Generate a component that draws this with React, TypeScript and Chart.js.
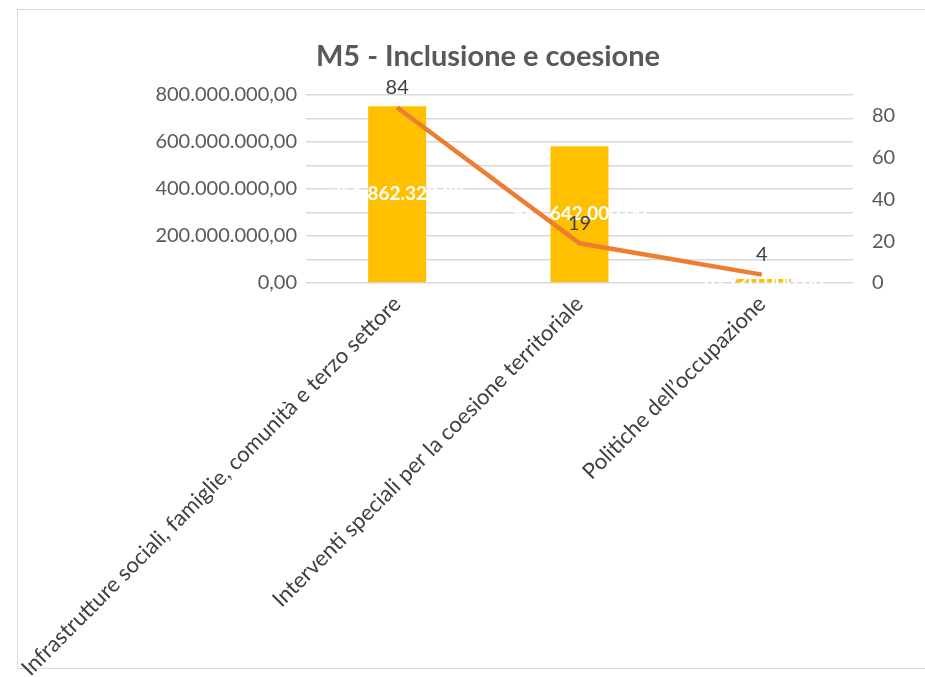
import React, { useEffect, useRef } from "react";
import { Chart, registerables } from "chart.js";

Chart.register(...registerables);

const categories = [
  "Infrastrutture sociali, famiglie, comunità e terzo settore",
  "Interventi speciali per la coesione territoriale",
  "Politiche dell’occupazione",
];
const amounts = [751862320, 581642000, 16920000];
const counts = [84, 19, 4];
const leftGrid = [0, 100000000, 200000000, 300000000, 400000000, 500000000, 600000000, 700000000, 800000000];
const leftTicks = [0, 200000000, 400000000, 600000000, 800000000];
const rightTicks = [0, 20, 40, 60, 80];
const titleText = "M5 - Inclusione e coesione";

const FONT = "Lato, 'Open Sans', sans-serif";

function formatIt(v: number): string {
  const fixed = Math.abs(v).toFixed(2);
  const [intPart, dec] = fixed.split(".");
  const withDots = intPart.replace(/\B(?=(\d{3})+(?!\d))/g, ".");
  return (v < 0 ? "-" : "") + withDots + "," + dec;
}

const labelPlugin = {
  id: "customLabels",
  afterDatasetDraw(chart: any, args: any) {
    const ctx = chart.ctx;
    if (args.index === 0) {
      const meta = chart.getDatasetMeta(0);
      ctx.save();
      ctx.fillStyle = "#ffffff";
      ctx.font = `bold 19px ${FONT}`;
      ctx.textAlign = "center";
      ctx.textBaseline = "middle";
      meta.data.forEach((el: any, i: number) => {
        const y = (el.y + el.base) / 2;
        ctx.fillText(formatIt(amounts[i]), el.x, y);
      });
      ctx.restore();
    }
  },
  afterDatasetsDraw(chart: any) {
    const ctx = chart.ctx;
    const meta = chart.getDatasetMeta(1);
    ctx.save();
    ctx.fillStyle = "#404040";
    ctx.font = `20px ${FONT}`;
    ctx.textAlign = "center";
    ctx.textBaseline = "middle";
    meta.data.forEach((el: any, i: number) => {
      ctx.fillText(String(counts[i]), el.x, el.y - 20);
    });
    ctx.restore();
    ctx.save();
    ctx.fillStyle = "#595959";
    ctx.font = `bold 29px ${FONT}`;
    ctx.textAlign = "center";
    ctx.textBaseline = "middle";
    ctx.fillText(titleText, 480, 49);
    ctx.restore();
  },
};

export default function App() {
  const ref = useRef<HTMLCanvasElement | null>(null);
  useEffect(() => {
    if (!ref.current) return;
    const chart = new Chart(ref.current, {
      type: "bar",
      data: {
        labels: categories,
        datasets: [
          {
            type: "bar",
            data: amounts,
            backgroundColor: "#FFC000",
            yAxisID: "y",
            order: 2,
            barPercentage: 0.318,
            categoryPercentage: 1,
          } as any,
          {
            type: "line",
            data: counts,
            borderColor: "#ED7D31",
            borderWidth: 4.5,
            pointRadius: 0,
            yAxisID: "y1",
            order: 1,
            tension: 0,
          } as any,
        ],
      },
      options: {
        responsive: false,
        animation: false,
        devicePixelRatio: 1,
        layout: { padding: { top: 87, left: 0, right: 0, bottom: 0 } },
        plugins: {
          legend: { display: false },
          title: { display: false },
          tooltip: { enabled: false },
        },
        scales: {
          x: {
            grid: { display: false },
            border: { display: false },
            ticks: {
              autoSkip: false,
              minRotation: 45,
              maxRotation: 45,
              color: "#404040",
              font: { family: FONT, size: 22 },
              padding: 0,
            },
            afterFit(scale: any) {
              scale.height = 394;
              scale.paddingLeft = 0;
              scale.paddingRight = 0;
            },
          },
          y: {
            position: "left",
            min: 0,
            max: 800000000,
            grid: { color: "#d9d9d9", lineWidth: 1.5, drawTicks: false },
            border: { display: false },
            ticks: {
              autoSkip: false,
              padding: 9,
              color: "#595959",
              font: { family: FONT, size: 20 },
              callback: (v: any) => (leftTicks.includes(Number(v)) ? formatIt(Number(v)) : ""),
            },
            afterBuildTicks(scale: any) {
              scale.ticks = leftGrid.map((v) => ({ value: v }));
            },
            afterFit(scale: any) {
              scale.width = 298;
            },
          },
          y1: {
            position: "right",
            min: 0,
            max: 90,
            grid: { display: false, drawTicks: false },
            border: { display: false },
            ticks: {
              autoSkip: false,
              padding: 19,
              color: "#595959",
              font: { family: FONT, size: 20 },
            },
            afterBuildTicks(scale: any) {
              scale.ticks = rightTicks.map((v) => ({ value: v }));
            },
            afterFit(scale: any) {
              scale.width = 72;
            },
          },
        },
      } as any,
      plugins: [labelPlugin],
    });
    return () => chart.destroy();
  }, []);

  return (
    <div style={{ position: "absolute", left: 0, top: 0, width: 925, height: 677, overflow: "hidden" }}>
      <div
        style={{
          position: "absolute",
          left: 17,
          top: 9,
          width: 907,
          height: 658,
          borderLeft: "1px solid #d9d9d9",
          borderTop: "1px solid #d9d9d9",
          borderBottom: "1px solid #d9d9d9",
          background: "#ffffff",
        }}
      />
      <canvas
        ref={ref}
        width={917}
        height={669}
        style={{ display: "block", position: "absolute", left: 8, top: 8 }}
      />
    </div>
  );
}
